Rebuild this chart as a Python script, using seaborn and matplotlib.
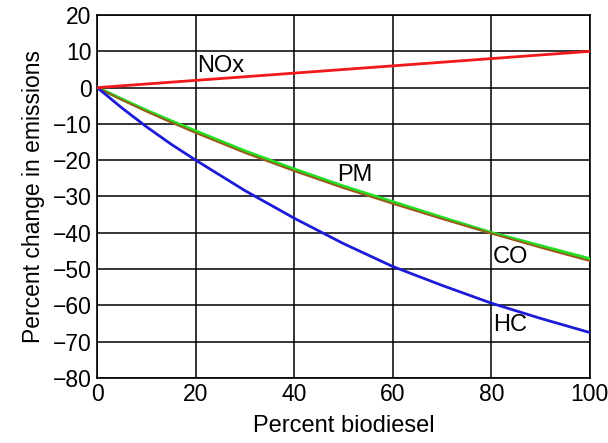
import matplotlib
matplotlib.use("Agg")
import matplotlib.pyplot as plt
import pandas as pd
import seaborn as sns

sns.set_style("white", {"text.color": "black", "axes.labelcolor": "black",
                        "xtick.color": "black", "ytick.color": "black"})
plt.rcParams['font.family'] = ['Liberation Sans', 'DejaVu Sans']

## Data
biodiesel = [0, 5, 10, 15, 20, 30, 40, 50, 60, 70, 80, 90, 100]
nox = [0, 0.5, 1, 1.5, 2, 3, 4, 5, 6, 7, 8, 9, 10]
pm = [0, -3.2, -6.3, -9.2, -12.0, -17.5, -22.5, -27.2, -31.5, -35.8, -40.0, -43.6, -47.2]
co = [0, -3.4, -6.6, -9.6, -12.5, -18.0, -23.0, -27.7, -32.0, -36.2, -40.2, -44.1, -47.8]
hc = [0, -5.6, -10.8, -15.6, -20.0, -28.4, -36.0, -43.0, -49.3, -54.5, -59.4, -63.6, -67.5]

colors = {"NOx": "#f01818", "PM": "#22e022", "CO": "#9a5a1e", "HC": "#1c1cd8"}
widths = {"NOx": 2.0, "PM": 2.4, "CO": 1.4, "HC": 2.0}

df = pd.concat([
    pd.DataFrame({"x": biodiesel, "y": nox, "gas": "NOx"}),
    pd.DataFrame({"x": biodiesel, "y": pm, "gas": "PM"}),
    pd.DataFrame({"x": biodiesel, "y": co, "gas": "CO"}),
    pd.DataFrame({"x": biodiesel, "y": hc, "gas": "HC"}),
])

fig, ax = plt.subplots(figsize=(6.08, 4.43), dpi=100)
fig.subplots_adjust(left=0.16, right=0.97, bottom=0.147, top=0.966)

## Plot
for name in ["PM", "CO", "HC", "NOx"]:
    sns.lineplot(data=df[df["gas"] == name], x="x", y="y", color=colors[name],
                 linewidth=widths[name], ax=ax, zorder=3, legend=False)

## Line labels
ax.text(20.2, 6.0, "NOx", fontsize=17, va="center", ha="left", color="black")
ax.text(48.6, -24.0, "PM", fontsize=17, va="center", ha="left", color="black")
ax.text(80.3, -46.8, "CO", fontsize=17, va="center", ha="left", color="black")
ax.text(80.3, -65.5, "HC", fontsize=17, va="center", ha="left", color="black")

## Axes style
ax.set_xlim(0, 100)
ax.set_ylim(-80, 20)
ax.set_xticks(range(0, 101, 20))
ax.set_yticks(range(-80, 21, 10))
ax.set_yticklabels([f"{v}".replace("-", "\u2212") for v in range(-80, 21, 10)])
ax.tick_params(length=0, labelsize=16.5, pad=4, labelcolor="black")
ax.grid(True, color="black", linewidth=1.1)
for s in ax.spines.values():
    s.set_color("black")
    s.set_linewidth(1.2)
ax.set_xlabel("Percent biodiesel", fontsize=17, labelpad=6, color="black")
ax.set_ylabel("Percent change in emissions", fontsize=16.5, labelpad=6, color="black")

fig.savefig("out.png", dpi=100)
